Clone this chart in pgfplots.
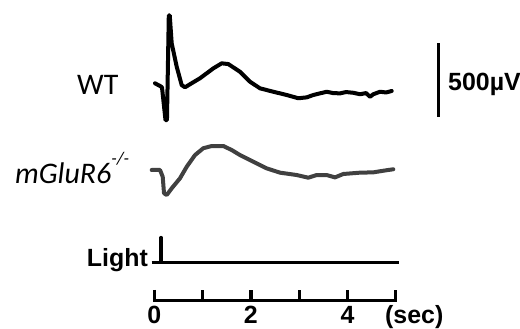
\documentclass[border=0pt]{standalone}
\usepackage{pgfplots}
\pgfplotsset{compat=1.18}
\usepackage{fontspec}
\setmainfont{Carlito}
\newfontfamily\arialb{Liberation Sans}
\newcommand\lab{\arialb\bfseries\fontsize{25}{25}\selectfont}
\newcommand\biglab{\fontsize{30}{30}\selectfont}
\begin{document}
\begin{tikzpicture}
\begin{axis}[scale only axis, width=520bp, height=329bp,
  xmin=-3.1946, xmax=7.5714, ymin=-1635.2, ymax=587.9,
  hide axis, clip=false]
% WT trace (t in s, v in microvolts)
\addplot[black, line width=4bp, line join=round, line cap=round] table {
t v
0.014 25
0.118 7
0.159 -2
0.232 -224
0.262 -224
0.300 484
0.320 484
0.360 295
0.464 137
0.567 13
0.636 -2
0.781 27
0.946 59
1.222 126
1.395 160
1.532 155
1.774 103
1.981 36
2.188 -9
2.464 -32
2.741 -54
2.981 -76
3.155 -70
3.292 -54
3.569 -32
3.700 -41
3.845 -43
3.969 -34
4.120 -39
4.259 -49
4.383 -41
4.466 -66
4.534 -49
4.673 -32
4.797 -37
4.915 -27
};
% mGluR6-/- trace
\addplot[black!75, line width=4bp, line join=round, line cap=round] table[y expr=\thisrow{v}-560.8] {
t v
-0.054 0
0.118 0
0.174 -45
0.201 -157
0.257 -169
0.360 -124
0.532 -56
0.671 22
0.843 101
1.014 147
1.188 162
1.429 162
1.602 135
1.774 101
2.050 56
2.327 11
2.602 -18
2.948 -34
3.188 -52
3.362 -34
3.569 -34
3.741 -50
3.913 -27
4.259 -18
4.534 -16
4.741 -5
4.948 5
};
% light stimulus
\addplot[black, line width=3.2bp, line join=round] table[y expr=-1184.5+167.6*\thisrow{on}] {
t on
-0.054 0
0.139 0
0.139 1
0.139 0
5.060 0
};
% time scale bar
\addplot[black, line width=3.2bp, line join=miter] coordinates {(0,-1371.6) (0,-1444) (5,-1444) (5,-1371.6)};
\addplot[black, line width=3.2bp] coordinates {(1,-1444) (1,-1371.6)};
\addplot[black, line width=3.2bp] coordinates {(2,-1444) (2,-1371.6)};
\addplot[black, line width=3.2bp] coordinates {(3,-1444) (3,-1371.6)};
\addplot[black, line width=3.2bp] coordinates {(4,-1444) (4,-1371.6)};
% 500 uV scale bar
\addplot[black, line width=3.5bp] coordinates {(5.880,-200.7) (5.880,299.3)};
\node[anchor=base west, inner sep=0, font=\lab] at (axis cs:6.081,-20.3) {500µV};
\node[anchor=base, inner sep=0, font=\lab] at (axis cs:0,-1594.7) {0};
\node[anchor=base, inner sep=0, font=\lab] at (axis cs:2,-1594.7) {2};
\node[anchor=base, inner sep=0, font=\lab] at (axis cs:4,-1594.7) {4};
\node[anchor=base west, inner sep=0, font=\lab] at (axis cs:4.776,-1594.7) {(sec)};
\node[anchor=base east, inner sep=0, font=\lab] at (axis cs:-0.13,-1209.5) {Light};
\node[anchor=base west, inner sep=0, font=\biglab] at (axis cs:-1.600,-54) {WT};
\node[anchor=base west, inner sep=0, font=\biglab] at (axis cs:-2.884,-648.7) {\itshape mGluR6\raisebox{19bp}{\fontsize{18}{18}\selectfont -/-}};
\end{axis}
\pgfresetboundingbox
\path (current axis.south west) rectangle (current axis.north east);
\end{tikzpicture}
\end{document}
